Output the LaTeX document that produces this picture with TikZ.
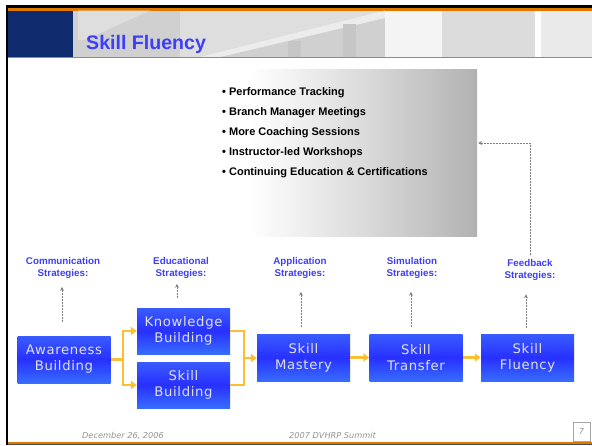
\documentclass[tikz,border=0pt]{standalone}
\usepackage{fontspec}
\setmainfont{Liberation Sans}
\newfontfamily\boxfont[LetterSpace=5]{DejaVu Sans}
\newfontfamily\footfont{DejaVu Sans}
\usetikzlibrary{arrows.meta,calc}
\definecolor{navy}{RGB}{16,42,110}
\definecolor{topor}{RGB}{224,120,0}
\definecolor{ttlblue}{RGB}{62,62,250}
\definecolor{lblblue}{RGB}{62,62,245}
\definecolor{conor}{RGB}{250,192,50}
\definecolor{boxtop}{RGB}{58,92,255}
\definecolor{boxmid}{RGB}{40,48,255}
\definecolor{boxbot}{RGB}{55,108,255}
\definecolor{hB}{RGB}{222,222,222}
\definecolor{hC}{RGB}{208,208,208}
\definecolor{hD}{RGB}{236,236,236}
\definecolor{hE}{RGB}{198,198,198}
\definecolor{hF}{RGB}{244,244,244}
\definecolor{hG}{RGB}{220,220,220}
\definecolor{hH}{RGB}{234,234,234}
\tikzset{
  sbox/.style={rectangle, inner sep=0pt, minimum width=93pt, minimum height=47pt,
    top color=boxtop, bottom color=boxbot, middle color=boxmid,
    text=white!88!black, align=center, font=\boxfont\fontsize{13.2}{16}\selectfont},
  lbl/.style={inner sep=0pt, align=center, text=lblblue, font=\bfseries\fontsize{9.8}{12}\selectfont},
  bul/.style={inner sep=0pt, anchor=base west, font=\bfseries\fontsize{11}{13}\selectfont},
  garr/.style={draw=black!50, line width=0.8pt, dash pattern=on 1.5pt off 1.5pt, -{Stealth[length=4pt,width=4pt]}},
  oline/.style={draw=conor, line width=2.6pt},
  oarr/.style={oline, -{Triangle[length=6pt,width=8pt]}},
  foot/.style={inner sep=0pt, anchor=base, text=black!42, font=\footfont\itshape\fontsize{8.2}{10}\selectfont}
}
\begin{document}
\begin{tikzpicture}[x=1pt,y=-1pt]
\useasboundingbox (0,0) rectangle (592,445);
% frame
\fill[black] (6,5) rectangle (592,8);
\fill[topor] (8,8) rectangle (592,10.5);
\fill[black] (6,5) rectangle (8,445);
\fill[topor] (8,442) rectangle (592,444);
\fill[black!70] (8,444) rectangle (592,445);
% header
\fill[navy] (8,10.5) rectangle (73,57);
\fill[hC] (73,10.5) rectangle (180,57);
\fill[hB] (78,10.5) -- (150,10.5) -- (85,40) -- (78,40) -- cycle;
\fill[hB] (180,10.5) rectangle (385,57);
\fill[hC] (218,57) -- (385,17) -- (385,57) -- cycle;
\fill[hD] (200,57) -- (385,10.5) -- (385,18) -- (220,57) -- cycle;
\fill[hE] (288,41) rectangle (301,57);
\fill[hE] (343,24) rectangle (356,57);
\fill[hF] (385,10.5) rectangle (442,57);
\fill[hG] (442,10.5) rectangle (535,57);
\fill[white] (535,10.5) rectangle (541,57);
\fill[hH] (541,10.5) rectangle (592,57);
\draw[black!45, line width=1pt] (8,57.5) -- (592,57.5);
\node[anchor=base west, inner sep=0pt, text=ttlblue, font=\bfseries\fontsize{19.6}{22}\selectfont] (title) at (86,49) {Skill Fluency};
% grey panel (horizontal gradient drawn as strips)
\begin{scope}
\clip (210,69) rectangle (477,237);
\foreach \i in {0,...,88}{
  \pgfmathsetmacro{\t}{\i/88}
  \pgfmathsetmacro{\v}{\t<0.15 ? 100 : (\t<0.6 ? 100-15*(\t-0.15)/0.45 : 85-15*(\t-0.6)/0.4)}
  \fill[white!\v!black] (210+3*\i,69) rectangle (213.8+3*\i,237);
}
\end{scope}
\node[inner sep=0pt, minimum width=267pt, minimum height=168pt] (gb) at (343.5,153) {};
\node[bul] (b1) at (222,95) {• Performance Tracking};
\node[bul] (b2) at (222,115) {• Branch Manager Meetings};
\node[bul] (b3) at (222,135) {• More Coaching Sessions};
\node[bul] (b4) at (222,155) {• Instructor-led Workshops};
\node[bul] (b5) at (222,175) {• Continuing Education \& Certifications};
% boxes
\node[sbox] (aw) at (64,359.5) {Awareness\\Building};
\node[sbox, minimum height=46pt] (kn) at (183.5,331) {Knowledge\\Building};
\node[sbox, minimum height=46pt] (sb) at (183.5,385) {Skill\\Building};
\node[sbox] (ma) at (303.5,357.5) {Skill\\Mastery};
\node[sbox] (tr) at (416,357.5) {Skill\\Transfer};
\node[sbox] (fl) at (527.5,357.5) {Skill\\Fluency};
% labels
\node[lbl] (cs) at (63,268) {Communication\\Strategies:};
\node[lbl] (es) at (181,268) {Educational\\Strategies:};
\node[lbl] (as) at (300,268) {Application\\Strategies:};
\node[lbl] (ss) at (412,268) {Simulation\\Strategies:};
\node[lbl] (fs) at (530,269.5) {Feedback\\Strategies:};
% dashed grey arrows
\draw[garr, shorten <=14pt, shorten >=8pt] ([xshift=-2pt]aw.north) -- ([xshift=-2pt]aw.north |- cs.south);
\draw[garr, shorten <=10pt, shorten >=5pt] ([xshift=-6.5pt]kn.north) -- ([xshift=-6.5pt]kn.north |- es.south);
\draw[garr, shorten <=7pt, shorten >=13pt] ([xshift=-2.5pt]ma.north) -- ([xshift=-2.5pt]ma.north |- as.south);
\draw[garr, shorten <=7pt, shorten >=13pt] ([xshift=-5pt]tr.north) -- ([xshift=-5pt]tr.north |- ss.south);
\draw[garr, shorten <=6pt, shorten >=14pt] ([xshift=-1.5pt]fl.north) -- ([xshift=-1.5pt]fl.north |- fs.south);
\coordinate (fbin) at ([yshift=10pt]gb.east);
\draw[garr] ([yshift=4pt]fs.north) |- ([xshift=1pt]fbin);
% orange connectors
\coordinate (j1) at (123,359.5);
\coordinate (j2) at (244,358);
\draw[oline] (aw.east) -- (j1);
\draw[oarr] (j1) |- (kn.west);
\draw[oarr] (j1) |- (sb.west);
\draw[oline] (kn.east) -| (j2) |- (sb.east);
\draw[oarr] (j2) -- (j2 -| ma.west);
\draw[oarr] (ma.east) -- (tr.west);
\draw[oarr] (tr.east) -- (fl.west);
% footer
\node[foot] (date) at (123,438) {December 26, 2006};
\node[foot] (event) at (332.5,438) {2007 DVHRP Summit};
\node[draw=black!35, fill=white, inner sep=0pt, minimum width=17pt, minimum height=19pt, text=black!42, font=\footfont\itshape\fontsize{8.2}{10}\selectfont] (pg) at (581.5,431.5) {7};
\end{tikzpicture}
\end{document}
